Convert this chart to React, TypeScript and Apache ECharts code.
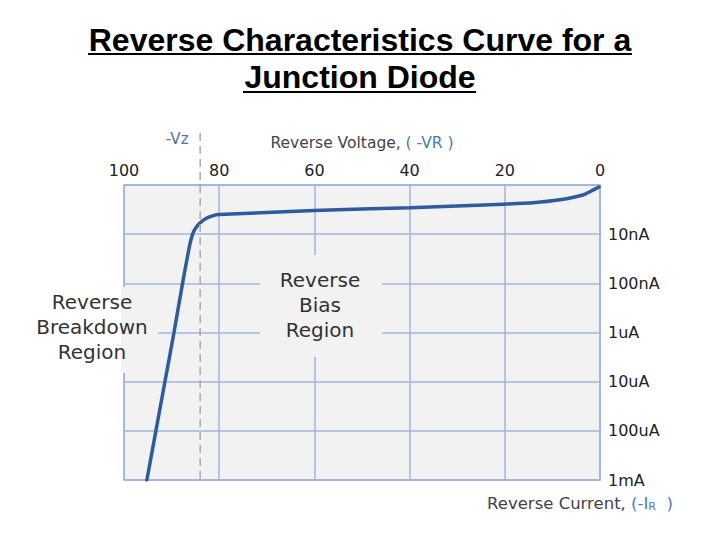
import React, { useEffect, useRef } from 'react';
import * as echarts from 'echarts';

// reverse voltage (V), from 0 V to the breakdown region
const voltage = [0.2, 1.7, 3.6, 8.4, 14.1, 20.2, 39.9, 60.1, 80, 80.9, 82.6, 84, 84.9, 85.5, 86.1, 87.7, 89.5, 91.4, 93.3, 95.2];
// reverse current (A)
const current = [1.1e-9, 1.3e-9, 1.6e-9, 2.0e-9, 2.3e-9, 2.45e-9, 2.9e-9, 3.3e-9, 4.0e-9, 4.1e-9, 4.7e-9, 5.9e-9, 7.4e-9, 9.5e-9, 1.5e-8, 1.0e-7, 1.0e-6, 1.0e-5, 1.0e-4, 1.0e-3];
const currentTicks = ['1nA', '10nA', '100nA', '1uA', '10uA', '100uA', '1mA'];
const zenerVoltage = 84;

const FONT = 'DejaVu Sans';
const GRID_BLUE = '#9fb7de';
const PLOT_BG = '#f2f2f2';

const App: React.FC = () => {
    const chartRef = useRef<HTMLDivElement>(null);

    useEffect(() => {
        if (!chartRef.current) return;
        const chart = echarts.init(chartRef.current, null, { renderer: 'svg' });

        const option = {
            animation: false,
            backgroundColor: '#fff',
            grid: {
                left: 124, right: 120, top: 185, bottom: 60,
                show: true, backgroundColor: PLOT_BG, borderColor: GRID_BLUE, borderWidth: 1.5,
            },
            xAxis: {
                type: 'value', min: 0, max: 100, interval: 20,
                inverse: true, position: 'top',
                axisLine: { show: true, lineStyle: { color: GRID_BLUE, width: 1.5 } },
                axisTick: { show: false },
                axisLabel: { fontFamily: FONT, fontSize: 16, color: '#222', margin: 7 },
                splitLine: { lineStyle: { color: GRID_BLUE, width: 1.5 } },
            },
            yAxis: {
                type: 'log', logBase: 10, min: 1e-9, max: 1e-3, splitNumber: 6,
                inverse: true, position: 'right',
                axisLine: { show: true, lineStyle: { color: GRID_BLUE, width: 1.5 } },
                axisTick: { show: false },
                axisLabel: {
                    fontFamily: FONT, fontSize: 16, color: '#222', margin: 8,
                    formatter: (v: number) => {
                        const e = Math.round(Math.log10(v)) + 9;
                        return e === 0 ? '' : currentTicks[e];
                    },
                },
                splitLine: { lineStyle: { color: GRID_BLUE, width: 1.5 } },
            },
            series: [
                {
                    type: 'line',
                    data: voltage.map((v, i) => [v, current[i]]),
                    showSymbol: false,
                    smooth: 0.2,
                    lineStyle: { color: '#2f5b9e', width: 3.5, cap: 'round' },
                    z: 5,
                },
            ],
            graphic: [
                { type: 'text', x: 360, y: 40, style: { text: 'Reverse Characteristics Curve for a', font: 'bold 32px "Liberation Sans"', fill: '#000', align: 'center', verticalAlign: 'middle' } },
                { type: 'line', shape: { x1: 88, y1: 54, x2: 632, y2: 54 }, style: { stroke: '#000', lineWidth: 2 } },
                { type: 'text', x: 360, y: 77, style: { text: 'Junction Diode', font: 'bold 32px "Liberation Sans"', fill: '#000', align: 'center', verticalAlign: 'middle' } },
                { type: 'line', shape: { x1: 243, y1: 92, x2: 476, y2: 92 }, style: { stroke: '#000', lineWidth: 2 } },
                {
                    type: 'text', x: 362, y: 143, style: {
                        text: '{a|Reverse Voltage, }{b|( -VR )}', align: 'center', verticalAlign: 'middle',
                        rich: {
                            a: { fontFamily: FONT, fontSize: 15.5, fill: '#444' },
                            b: { fontFamily: FONT, fontSize: 15.5, fill: '#4a7ab5' },
                        },
                    },
                },
                {
                    type: 'text', x: 580, y: 503, style: {
                        text: '{a|Reverse Current, }{b|(-I}{s|R}{b|  )}', align: 'center', verticalAlign: 'middle',
                        rich: {
                            a: { fontFamily: FONT, fontSize: 16.5, fill: '#444' },
                            b: { fontFamily: FONT, fontSize: 16.5, fill: '#4a7ab5' },
                            s: { fontFamily: FONT, fontSize: 11, fill: '#4a7ab5', verticalAlign: 'bottom', padding: [5, 0, 0, 0] },
                        },
                    },
                },
                { type: 'rect', z: 50, shape: { x: 260, y: 255, width: 122, height: 102 }, style: { fill: PLOT_BG } },
                { type: 'text', z: 51, x: 320, y: 305, style: { text: 'Reverse\nBias\nRegion', fontFamily: FONT, fontSize: 20, lineHeight: 25, fill: '#333', align: 'center', verticalAlign: 'middle' } },
                { type: 'rect', z: 50, shape: { x: 121, y: 287, width: 37, height: 86 }, style: { fill: PLOT_BG } },
                { type: 'text', z: 51, x: 92, y: 327, style: { text: 'Reverse\nBreakdown\nRegion', fontFamily: FONT, fontSize: 20, lineHeight: 25, fill: '#333', align: 'center', verticalAlign: 'middle' } },
            ],
        };

        chart.setOption(option);

        // dashed Vz marker, placed through the x axis scale
        const px = chart.convertToPixel({ xAxisIndex: 0 }, zenerVoltage) as number;
        const bottom = chart.convertToPixel({ yAxisIndex: 0 }, 1e-3) as number;
        chart.setOption({
            graphic: [
                ...option.graphic,
                { type: 'line', z: 40, shape: { x1: px, y1: 133, x2: px, y2: bottom }, style: { stroke: '#aaa', lineWidth: 1.5, lineDash: [8, 5] } },
                { type: 'text', x: px - 23, y: 139, style: { text: '-Vz', fontFamily: FONT, fontSize: 15, fill: '#5571a0', align: 'center', verticalAlign: 'middle' } },
            ],
        });

        return () => {
            chart.dispose();
        };
    }, []);

    return <div ref={chartRef} style={{ position: 'absolute', left: 0, top: 0, width: 720, height: 540 }} />;
};

export default App;
